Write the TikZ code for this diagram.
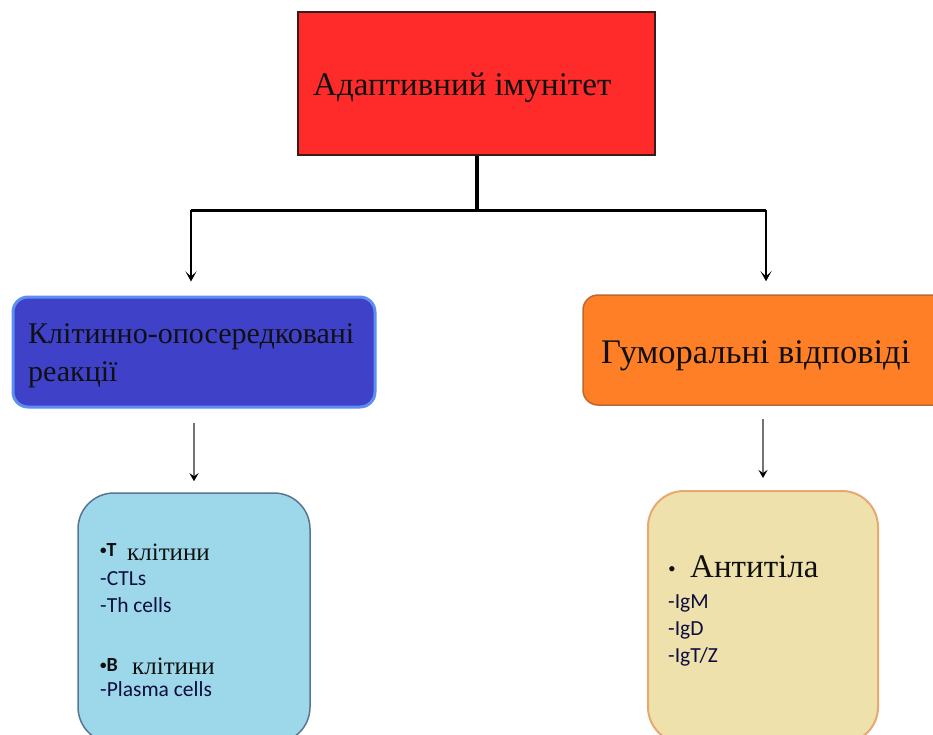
\documentclass[tikz,border=0pt]{standalone}
\usepackage{fontspec}
\setmainfont{Liberation Serif}
\newfontfamily\calfont{Carlito}
\usetikzlibrary{arrows.meta,calc}
\definecolor{redfill}{HTML}{FF2A2A}
\definecolor{redline}{HTML}{3A1A1A}
\definecolor{bluefill}{HTML}{3F41C9}
\definecolor{blueline}{HTML}{5C8FEF}
\definecolor{orangefill}{HTML}{FF7F27}
\definecolor{orangeline}{HTML}{B86A30}
\definecolor{lbfill}{HTML}{9DD8EA}
\definecolor{lbline}{HTML}{5A7590}
\definecolor{befill}{HTML}{EEE1AC}
\definecolor{beline}{HTML}{E8A870}
\definecolor{txt}{HTML}{101010}
\tikzset{
  boxbase/.style={rectangle, inner sep=0pt},
  redbox/.style={boxbase, fill=redfill, draw=redline, line width=2pt},
  bluebox/.style={boxbase, fill=bluefill, draw=blueline, line width=3pt, rounded corners=15pt},
  orangebox/.style={boxbase, fill=orangefill, draw=orangeline, line width=1.5pt, rounded corners=15pt},
  lbbox/.style={boxbase, fill=lbfill, draw=lbline, line width=1.5pt, rounded corners=36pt},
  bebox/.style={boxbase, fill=befill, draw=beline, line width=2pt, rounded corners=36pt},
  bigtext/.style={anchor=base west, inner sep=0pt, text=txt, font=\fontsize{33}{38}\selectfont},
  midtext/.style={anchor=base west, inner sep=0pt, text=txt, font=\fontsize{30}{38}\selectfont},
  kltext/.style={anchor=base west, inner sep=0pt, text=txt, font=\fontsize{25}{30}\selectfont},
  smalltext/.style={anchor=base west, inner sep=0pt, text=txt!80!blue, font=\calfont\fontsize{21.5}{24}\selectfont},
  boldsmall/.style={anchor=base west, inner sep=0pt, text=txt, font=\calfont\bfseries\fontsize{20}{24}\selectfont},
  trunk/.style={line width=4pt},
  branch/.style={line width=3pt, line join=round},
  bigarrow/.style={line width=2pt, -{Stealth[length=10pt,width=11pt,inset=5pt]}},
  smallarrow/.style={line width=1.6pt, draw=black!55, -{Stealth[length=8pt,width=9pt,inset=3pt,fill=black,color=black]}}
}
\begin{document}
\begin{tikzpicture}[x=1pt,y=-1pt]
\useasboundingbox (0,0) rectangle (933,734);
\clip (0,0) rectangle (933,734);

% boxes
\node[redbox, minimum width=357pt, minimum height=143pt] (top) at (476.5,83.5) {};
\node[bluebox, minimum width=362pt, minimum height=110pt] (cell) at (194,352) {};
\node[orangebox, minimum width=370pt, minimum height=110pt] (hum) at (768,350) {};
\node[lbbox, minimum width=232pt, minimum height=250pt] (lb) at (194,618) {};
\node[bebox, minimum width=230pt, minimum height=252pt] (be) at (763,617) {};

% texts
\node[bigtext] (toptext) at (313,95) {Адаптивний імунітет};
\node[midtext] (celltext1) at (28,343) {Клітинно-опосередковані};
\node[midtext] (celltext2) at (28,381) {реакції};
\node[bigtext, font=\fontsize{34.5}{38}\selectfont] (humtext) at (601,363) {Гуморальні відповіді};

\node[boldsmall] (tb) at (100,556) {{\fontsize{13}{14}\selectfont\raisebox{2pt}{•}}T};
\node[kltext] (tk) at (127,560) {клітини};
\node[smalltext] (ctl) at (100,585) {-CTLs};
\node[smalltext] (th) at (100,612) {-Th cells};
\node[boldsmall] (bb) at (100,671) {{\fontsize{13}{14}\selectfont\raisebox{2pt}{•}}B};
\node[kltext] (bk) at (132,674) {клітини};
\node[smalltext] (pc) at (100,696) {-Plasma cells};

\node[kltext, font=\fontsize{22}{26}\selectfont] (abul) at (668,576) {•};
\node[bigtext] (ab) at (690,577) {Антитіла};
\node[smalltext] (igm) at (668,608) {-IgM};
\node[smalltext] (igd) at (668,635) {-IgD};
\node[smalltext] (igt) at (668,662) {-IgT/Z};

% connectors
\coordinate (j) at (top.south |- 0,210);
\coordinate (jl) at (191,210);
\coordinate (jr) at (766,210);
\draw[trunk] (top.south) -- (j);
\draw[branch] (jl) -- (jr);
\draw[bigarrow, shorten >=14pt] (jl) -- (jl |- cell.north);
\draw[bigarrow, shorten >=13pt] (jr) -- (jr |- hum.north);
\draw[smallarrow, shorten <=14pt, shorten >=11pt] (lb.north |- cell.south) -- (lb.north);
\draw[smallarrow, shorten <=13pt, shorten >=12pt] (be.north |- hum.south) -- (be.north);
\end{tikzpicture}
\end{document}
